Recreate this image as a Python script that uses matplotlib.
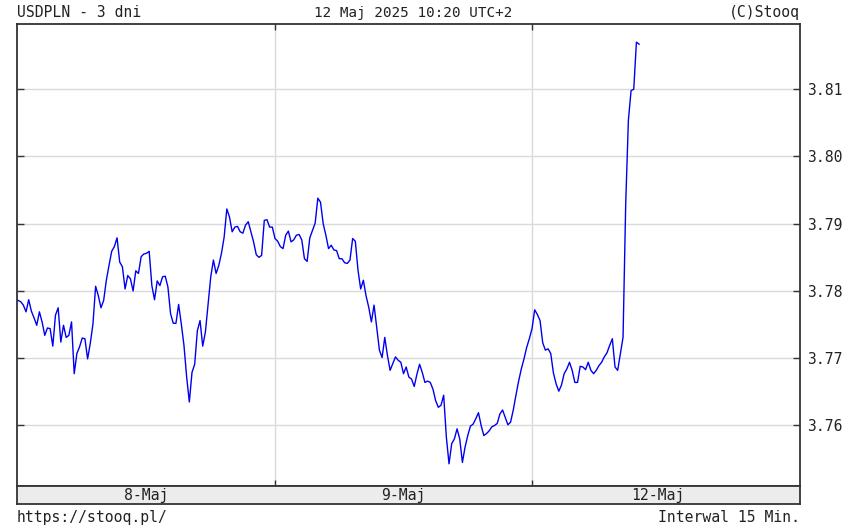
import matplotlib
matplotlib.use("Agg")
import matplotlib.pyplot as plt
import numpy as np

# USDPLN, 15-minute bars starting 8 May 2025 00:00
prices = [
    3.7786, 3.7784, 3.7779, 3.7769, 3.7787, 3.7770, 3.7760, 3.7749, 3.7769, 3.7754,
    3.7734, 3.7745, 3.7744, 3.7718, 3.7764, 3.7775, 3.7724, 3.7749, 3.7731, 3.7734,
    3.7754, 3.7677, 3.7707, 3.7717, 3.7730, 3.7729, 3.7699, 3.7722, 3.7751, 3.7807,
    3.7793, 3.7775, 3.7786, 3.7816, 3.7838, 3.7859, 3.7866, 3.7879, 3.7843, 3.7836,
    3.7803, 3.7823, 3.7818, 3.7800, 3.7830, 3.7826, 3.7851, 3.7855, 3.7856, 3.7859,
    3.7808, 3.7787, 3.7815, 3.7808, 3.7821, 3.7822, 3.7806, 3.7766, 3.7752, 3.7752,
    3.7780, 3.7751, 3.7719, 3.7672, 3.7635, 3.7679, 3.7691, 3.7741, 3.7756, 3.7718,
    3.7739, 3.7780, 3.7821, 3.7846, 3.7826, 3.7838, 3.7856, 3.7880, 3.7922, 3.7910,
    3.7888, 3.7895, 3.7896, 3.7888, 3.7886, 3.7898, 3.7903, 3.7888, 3.7873, 3.7854,
    3.7850, 3.7853, 3.7905, 3.7906, 3.7895, 3.7895, 3.7878, 3.7874, 3.7866, 3.7863,
    3.7883, 3.7889, 3.7873, 3.7876, 3.7883, 3.7884, 3.7876, 3.7848, 3.7844, 3.7879,
    3.7890, 3.7901, 3.7938, 3.7932, 3.7900, 3.7883, 3.7863, 3.7868, 3.7861, 3.7860,
    3.7848, 3.7848, 3.7842, 3.7841, 3.7846, 3.7878, 3.7874, 3.7831, 3.7803, 3.7816,
    3.7793, 3.7776, 3.7754, 3.7779, 3.7746, 3.7712, 3.7701, 3.7731, 3.7704, 3.7682,
    3.7692, 3.7702, 3.7697, 3.7694, 3.7677, 3.7687, 3.7672, 3.7669, 3.7658, 3.7676,
    3.7691, 3.7679, 3.7664, 3.7666, 3.7664, 3.7654, 3.7637, 3.7627, 3.7630, 3.7645,
    3.7583, 3.7543, 3.7573, 3.7580, 3.7595, 3.7580, 3.7545, 3.7568, 3.7585, 3.7599,
    3.7602, 3.7610, 3.7619, 3.7600, 3.7585, 3.7588, 3.7592, 3.7598, 3.7600, 3.7603,
    3.7617, 3.7623, 3.7612, 3.7601, 3.7605, 3.7623, 3.7645, 3.7666, 3.7684, 3.7699,
    3.7716, 3.7729, 3.7744, 3.7772, 3.7765, 3.7756, 3.7723, 3.7712, 3.7714, 3.7707,
    3.7678, 3.7662, 3.7651, 3.7660, 3.7677, 3.7684, 3.7694, 3.7682, 3.7664, 3.7664,
    3.7688, 3.7687, 3.7683, 3.7694, 3.7682, 3.7677, 3.7682, 3.7689, 3.7694, 3.7702,
    3.7708, 3.7719, 3.7729, 3.7687, 3.7682, 3.7707, 3.7731, 3.7930, 3.8054, 3.8098,
    3.8100, 3.8170, 3.8167,
]
bars_per_day = 96
day_labels = ["8-Maj", "9-Maj", "12-Maj"]
y_ticks = [3.76, 3.77, 3.78, 3.79, 3.80, 3.81]
title_left = "USDPLN - 3 dni"
title_center = "12 Maj 2025 10:20 UTC+2"
title_right = "(C)Stooq"
foot_left = "https://stooq.pl/"
foot_right = "Interwal 15 Min."

FONT = "DejaVu Sans Mono"
FS = 10.6
W, H = 855, 529
fig = plt.figure(figsize=(W / 100, H / 100), dpi=100)
fig.patch.set_facecolor("white")

L, R, T, B = 17, 800, 24, 486
BAND_B = 504
ax = fig.add_axes([L / W, (H - B) / H, (R - L) / W, (B - T) / H])
band = fig.add_axes([L / W, (H - BAND_B) / H, (R - L) / W, (BAND_B - B) / H])

x = np.arange(len(prices))
xmin, xmax = -0.37, 292.1
ax.plot(x, prices, color="#0000f0", lw=1.0, zorder=3)
ax.set_xlim(xmin, xmax)
ax.set_ylim(3.7510, 3.8197)

bounds = [bars_per_day, 2 * bars_per_day]
ax.set_xticks(bounds)
ax.set_yticks(y_ticks)
ax.set_yticklabels([f"{v:.2f}" for v in y_ticks], fontfamily=FONT, fontsize=FS)
ax.yaxis.tick_right()
ax.tick_params(axis="y", which="both", left=True, right=True, direction="in",
               length=5, width=1, color="#333333", pad=5, labelcolor="#222222")
ax.tick_params(axis="x", which="both", top=True, bottom=True, direction="in",
               length=4, width=1, color="#333333", labelbottom=False)
ax.grid(True, color="#dadada", lw=1.0, zorder=0)
for s in ax.spines.values():
    s.set_color("#333333")
    s.set_linewidth(1.3)

band.set_xlim(xmin, xmax)
band.set_ylim(0, 1)
band.set_facecolor("#ececec")
band.set_xticks([])
band.set_yticks([])
for s in band.spines.values():
    s.set_color("#333333")
    s.set_linewidth(1.3)
centers = [bars_per_day * 0.5, bars_per_day * 1.5, bars_per_day * 2.5 - 1]
for c, lab in zip(centers, day_labels):
    band.text(c, 0.45, lab, ha="center", va="center", fontfamily=FONT,
              fontsize=FS, color="#222222")

ty = (H - 17.3) / H
fig.text(L / W, ty, title_left, ha="left", va="baseline", fontfamily=FONT, fontsize=FS, color="#222222")
fig.text(413 / W, ty, title_center, ha="center", va="baseline", fontfamily=FONT, fontsize=10.3, color="#222222")
fig.text(R / W, ty, title_right, ha="right", va="baseline", fontfamily=FONT, fontsize=FS, color="#222222")
fy = (H - 522) / H
fig.text(L / W, fy, foot_left, ha="left", va="baseline", fontfamily=FONT, fontsize=FS, color="#222222")
fig.text(R / W, fy, foot_right, ha="right", va="baseline", fontfamily=FONT, fontsize=FS, color="#222222")

fig.savefig("out.png", dpi=100, facecolor="white")
